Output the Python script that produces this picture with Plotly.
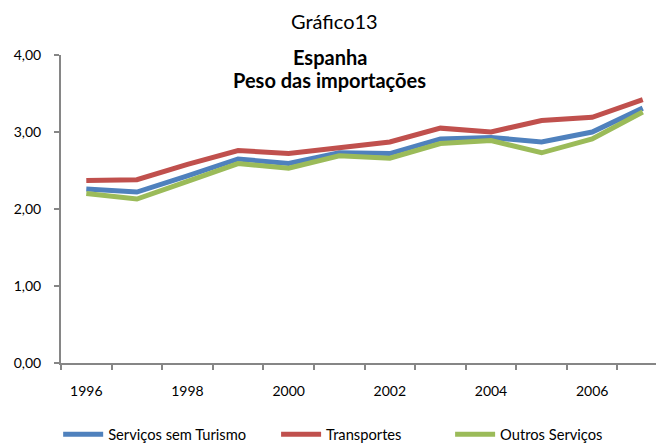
import plotly.graph_objects as go

# Dados
anos = ['1996', '1997', '1998', '1999', '2000', '2001', '2002', '2003', '2004', '2005', '2006', '2007']
servicos_sem_turismo = [2.26, 2.22, 2.43, 2.65, 2.59, 2.73, 2.72, 2.91, 2.93, 2.87, 3.00, 3.31]
transportes = [2.37, 2.38, 2.58, 2.76, 2.72, 2.79, 2.87, 3.05, 3.00, 3.15, 3.19, 3.42]
outros_servicos = [2.20, 2.13, 2.36, 2.59, 2.53, 2.69, 2.66, 2.85, 2.89, 2.73, 2.91, 3.26]
rotulos_x = [a if int(a) % 2 == 0 else '' for a in anos]

fonte = 'Lato'
cinza = '#868686'

fig = go.Figure()
fig.add_trace(go.Scatter(x=anos, y=servicos_sem_turismo, name='Serviços sem Turismo',
                         mode='lines', line=dict(color='#4F81BD', width=5), legend='legend'))
fig.add_trace(go.Scatter(x=anos, y=transportes, name='Transportes',
                         mode='lines', line=dict(color='#C0504D', width=5), legend='legend2'))
fig.add_trace(go.Scatter(x=anos, y=outros_servicos, name='Outros Serviços',
                         mode='lines', line=dict(color='#9BBB59', width=5), legend='legend3'))

# a página desloca a figura 8px, por isso as margens estão ajustadas
# (altura maior para a legenda não empurrar a margem de baixo)
leg = dict(orientation='h', xanchor='left', y=-0.233, yanchor='middle',
           font=dict(size=14.7), itemwidth=40, bgcolor='rgba(0,0,0,0)')
fig.update_layout(
    width=664, height=460,
    margin=dict(l=53, r=8, t=47, b=105),
    paper_bgcolor='white', plot_bgcolor='white',
    separators=',.',
    font=dict(family=fonte, size=14, color='black'),
    showlegend=True,
    legend=dict(leg, x=-0.0047),
    legend2=dict(leg, x=0.3567),
    legend3=dict(leg, x=0.6453),
    xaxis=dict(type='category', range=[-0.5, 11.42], tickson='boundaries',
               tickvals=anos, ticktext=rotulos_x,
               showline=True, linecolor=cinza, linewidth=2,
               ticks='outside', ticklen=5, tickwidth=2, tickcolor=cinza,
               showgrid=False, zeroline=False, ticklabelstandoff=14, automargin=False),
    yaxis=dict(range=[0, 4], tickvals=[0, 1, 2, 3, 4], tickformat='.2f',
               showline=True, linecolor=cinza, linewidth=2,
               ticks='outside', ticklen=5, tickwidth=2, tickcolor=cinza,
               showgrid=False, zeroline=False, ticklabelstandoff=10, automargin=False),
)

fig.add_annotation(text='Gráfico13', xref='paper', yref='paper', x=0.4536, y=1.110,
                   xanchor='center', yanchor='middle', showarrow=False, font=dict(size=20))
fig.add_annotation(text='<b>Espanha</b>', xref='paper', yref='paper', x=0.446, y=0.995,
                   xanchor='center', yanchor='middle', showarrow=False, font=dict(size=20))
fig.add_annotation(text='<b>Peso das importações</b>', xref='paper', yref='paper', x=0.446, y=0.919,
                   xanchor='center', yanchor='middle', showarrow=False, font=dict(size=20))

fig.write_html('out.html')
